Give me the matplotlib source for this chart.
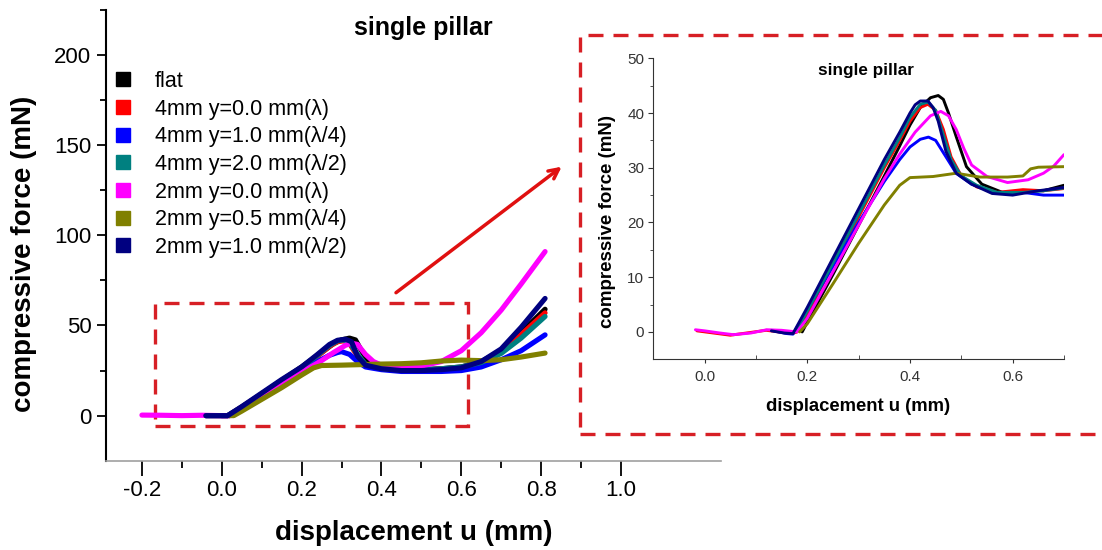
import numpy as np
import matplotlib
matplotlib.use('Agg')
import matplotlib.pyplot as plt
from matplotlib.lines import Line2D
from matplotlib.patches import Rectangle
from matplotlib.ticker import FixedLocator

plt.rcParams['font.family'] = ['Liberation Sans', 'DejaVu Sans']

# Serien (Reihenfolge wie in der Legende)
labels = ['flat', '4mm y=0.0 mm(λ)', '4mm y=1.0 mm(λ/4)', '4mm y=2.0 mm(λ/2)',
          '2mm y=0.0 mm(λ)', '2mm y=0.5 mm(λ/4)', '2mm y=1.0 mm(λ/2)']
colors = ['#000000', '#ff0000', '#0000ff', '#008080', '#ff00ff', '#808000', '#000080']

# Hauptdiagramm: Verschiebung u (mm) und Kraft (mN)
u_flat = [0.0, 0.02, 0.05, 0.1, 0.15, 0.2, 0.25, 0.28, 0.3, 0.32, 0.335, 0.35, 0.37, 0.4,
          0.45, 0.5, 0.55, 0.6, 0.65, 0.7, 0.75, 0.81]
F_flat = [0, 0, 4.5, 12, 19.5, 27, 35, 40, 42, 43, 42, 36, 29, 27,
          25.5, 25.5, 26, 27, 30, 36, 46, 59]
u_4a = [-0.04, 0.0, 0.015, 0.05, 0.1, 0.15, 0.2, 0.24, 0.27, 0.29, 0.305, 0.32, 0.34, 0.36,
        0.4, 0.45, 0.5, 0.55, 0.6, 0.65, 0.7, 0.75, 0.81]
F_4a = [0, 0, 0, 4.8, 12, 19.5, 26.5, 33, 38.5, 41, 41.5, 40, 33, 28,
        26, 25.2, 25.2, 25.8, 26.8, 29.5, 35.5, 45, 57]
u_4b = [-0.04, 0.0, 0.015, 0.05, 0.1, 0.15, 0.2, 0.24, 0.27, 0.29, 0.3, 0.32, 0.34, 0.36,
        0.4, 0.45, 0.5, 0.55, 0.6, 0.65, 0.7, 0.75, 0.81]
F_4b = [0, 0, 0, 4.5, 11.5, 18.5, 25, 30, 33.5, 35, 35.5, 34, 30, 27,
        25.5, 24.5, 24.5, 24.5, 25, 27, 31, 36, 44.8]
u_4c = [-0.04, 0.0, 0.015, 0.05, 0.1, 0.15, 0.2, 0.24, 0.27, 0.29, 0.305, 0.32, 0.34, 0.36,
        0.4, 0.45, 0.5, 0.55, 0.6, 0.65, 0.7, 0.75, 0.81]
F_4c = [0, 0, 0, 4.8, 12, 19.5, 26.5, 33.5, 39, 41.5, 42, 40.5, 34, 28.5,
        26.2, 25.3, 25.3, 26, 27, 29.5, 34.5, 43, 55]
u_2a = [-0.2, -0.15, -0.1, -0.05, 0.0, 0.02, 0.05, 0.1, 0.15, 0.2, 0.25, 0.28, 0.31, 0.325,
        0.34, 0.36, 0.38, 0.4, 0.45, 0.5, 0.55, 0.6, 0.65, 0.7, 0.75, 0.81]
F_2a = [0.3, 0.2, 0, 0.2, 0, 0, 3.5, 10.5, 17.5, 24, 30.5, 35, 39, 40.2,
        39.5, 34, 30, 28, 26.5, 27.5, 30, 36, 46, 58.5, 73, 91]
u_2b = [0.02, 0.03, 0.05, 0.1, 0.15, 0.2, 0.23, 0.25, 0.3, 0.35, 0.4, 0.45, 0.5, 0.55,
        0.6, 0.65, 0.7, 0.75, 0.81]
F_2b = [0, 0, 2.5, 9, 15.5, 22.5, 26.5, 27.8, 28, 28.3, 28.6, 28.8, 29.3, 30.3,
        30.8, 30.5, 31, 32.5, 34.7]
u_2c = [-0.04, 0.0, 0.015, 0.05, 0.1, 0.15, 0.2, 0.24, 0.27, 0.29, 0.31, 0.325, 0.34, 0.36,
        0.4, 0.45, 0.5, 0.55, 0.6, 0.65, 0.7, 0.75, 0.81]
F_2c = [0, 0, 0, 5, 12.5, 20, 27, 34, 39.5, 41.8, 42.4, 41, 33, 28,
        26, 25, 25, 25.5, 26.5, 30, 37, 49, 65]

# Ausschnitt (Inset)
v_flat = [0.19, 0.2, 0.25, 0.3, 0.35, 0.38, 0.4, 0.42, 0.44, 0.455, 0.465, 0.475, 0.49,
          0.51, 0.54, 0.58, 0.62, 0.66, 0.7]
G_flat = [0, 1.8, 10.5, 19.5, 28.5, 34, 37.8, 41, 42.8, 43.2, 42.5, 40, 35.7,
          30.2, 27, 25.5, 25.8, 25.8, 26.8]
v_4a = [-0.015, 0.05, 0.12, 0.17, 0.18, 0.2, 0.25, 0.3, 0.35, 0.38, 0.4, 0.42, 0.435, 0.45,
        0.465, 0.48, 0.5, 0.53, 0.57, 0.62, 0.66, 0.7]
G_4a = [0.2, -0.6, 0.3, -0.3, 0, 3.3, 12.2, 21, 30, 35, 38.5, 41, 41.6, 40.5,
        37, 32, 28.5, 26.5, 25.5, 26, 25.8, 26.2]
v_4b = [0.13, 0.16, 0.172, 0.2, 0.25, 0.3, 0.35, 0.38, 0.4, 0.42, 0.436, 0.45, 0.47, 0.49,
        0.52, 0.57, 0.62, 0.66, 0.7]
G_4b = [0.3, -0.3, -0.4, 4, 12, 20, 27.5, 31.5, 33.8, 35.2, 35.6, 35, 32, 29,
        27, 25.3, 25.5, 25, 25]
v_4c = [0.178, 0.2, 0.25, 0.3, 0.35, 0.38, 0.4, 0.42, 0.435, 0.45, 0.465, 0.48, 0.5, 0.53,
        0.57, 0.62, 0.66, 0.7]
G_4c = [0, 3.8, 12.6, 21.5, 30.5, 35.5, 39.2, 41.6, 42, 40.5, 36, 31.5, 28.5, 26.8,
        25.5, 25.5, 25.8, 26.3]
v_2a = [-0.018, 0.0, 0.03, 0.056, 0.09, 0.121, 0.15, 0.18, 0.2, 0.25, 0.3, 0.35, 0.38, 0.41,
        0.44, 0.46, 0.475, 0.49, 0.505, 0.52, 0.55, 0.59, 0.63, 0.66, 0.68, 0.7]
G_2a = [0.4, 0.2, -0.2, -0.5, -0.2, 0.4, 0.3, 0, 2.5, 11, 19.5, 28, 32.5, 36.5,
        39.5, 40.3, 39.5, 37, 33.5, 30.5, 28.4, 27.3, 27.8, 29, 30.3, 32.4]
v_2b = [0.185, 0.2, 0.25, 0.3, 0.35, 0.38, 0.4, 0.445, 0.49, 0.536, 0.59, 0.62, 0.635, 0.65, 0.7]
G_2b = [0, 1.5, 8.8, 16.2, 23.2, 26.8, 28.2, 28.4, 29, 28.3, 28.3, 28.5, 29.8, 30.1, 30.2]
v_2c = [0.13, 0.155, 0.172, 0.2, 0.25, 0.3, 0.35, 0.38, 0.4, 0.41, 0.42, 0.435, 0.445, 0.455,
        0.47, 0.49, 0.52, 0.56, 0.6, 0.65, 0.7]
G_2c = [0.2, -0.2, -0.3, 4.5, 13.5, 22.5, 31.5, 36.5, 40, 41.5, 42.2, 42.2, 41, 38.5,
        33, 29, 27, 25.3, 25, 25.8, 26.4]

main_u = [u_flat, u_4a, u_4b, u_4c, u_2a, u_2b, u_2c]
main_F = [F_flat, F_4a, F_4b, F_4c, F_2a, F_2b, F_2c]
ins_u = [v_flat, v_4a, v_4b, v_4c, v_2a, v_2b, v_2c]
ins_F = [G_flat, G_4a, G_4b, G_4c, G_2a, G_2b, G_2c]

W, H = 1102, 550
fig = plt.figure(figsize=(W / 100, H / 100), dpi=100)
red = '#d71f25'

# --- Hauptdiagramm ---
ax = fig.add_axes([106 / W, 1 - 460.7 / H, 614.7 / W, 450.7 / H])
for u, F, c in zip(main_u, main_F, colors):
    ax.plot(u, F, color=c, lw=3.7, solid_capstyle='round', solid_joinstyle='round')
ax.set_xlim(-0.29, 1.25)
ax.set_ylim(-25, 225)
ax.spines['top'].set_visible(False)
ax.spines['right'].set_visible(False)
ax.spines['left'].set_linewidth(1.5)
ax.spines['bottom'].set_color('#a0a0a0')
ax.spines['bottom'].set_linewidth(1.2)
ax.xaxis.set_major_locator(FixedLocator([-0.2, 0.0, 0.2, 0.4, 0.6, 0.8, 1.0]))
ax.xaxis.set_minor_locator(FixedLocator([-0.1, 0.1, 0.3, 0.5, 0.7, 0.9]))
ax.yaxis.set_major_locator(FixedLocator([0, 50, 100, 150, 200]))
ax.yaxis.set_minor_locator(FixedLocator([25, 75, 125, 175, 225]))
ax.set_xticklabels(['-0.2', '0.0', '0.2', '0.4', '0.6', '0.8', '1.0'])
ax.tick_params(axis='x', which='major', length=11, width=1.3, labelsize=16, pad=3)
ax.tick_params(axis='x', which='minor', length=5, width=1.3)
ax.tick_params(axis='y', which='major', length=6.5, width=1.3, labelsize=16, pad=4)
ax.tick_params(axis='y', which='minor', length=4.3, width=1.3)
ax.set_xlabel('displacement u (mm)', fontsize=20, fontweight='bold')
ax.set_ylabel('compressive force (mN)', fontsize=20, fontweight='bold')
ax.xaxis.label.set_va('center')
ax.yaxis.label.set_va('center')
ax.xaxis.set_label_coords(0.5, -0.160)
ax.yaxis.set_label_coords(-0.133, 0.46)
ax.text(0.516, 0.959, 'single pillar', transform=ax.transAxes, ha='center', va='center',
        fontsize=18, fontweight='bold')

handles = [Line2D([], [], ls='none', marker='s', markersize=10.5, color=c, label=l)
           for c, l in zip(colors, labels)]
ax.legend(handles=handles, loc='upper left', bbox_to_anchor=(0.0094, 0.865), frameon=False,
          fontsize=15.5, handlelength=1.0, handletextpad=1.0, labelspacing=0.31,
          borderpad=0, borderaxespad=0)

# rot gestricheltes Rechteck um den Ausschnitt
ax.add_patch(Rectangle((-0.166, -5.5), 0.7835, 68.2, fill=False, ec=red, lw=2.4,
                       ls=(0, (4.5, 3)), clip_on=False))

# --- Inset ---
ins = fig.add_axes([653.3 / W, 1 - 359.3 / H, 410.7 / W, 301 / H])
ins.patch.set_alpha(0)
for u, F, c in zip(ins_u, ins_F, colors):
    ins.plot(u, F, color=c, lw=2.1, solid_capstyle='round', solid_joinstyle='round')
ins.set_xlim(-0.1, 0.7)
ins.set_ylim(-5, 50)
ins.spines['top'].set_visible(False)
ins.spines['right'].set_visible(False)
ins.spines['left'].set_color('#333333')
ins.spines['bottom'].set_color('#333333')
ins.xaxis.set_major_locator(FixedLocator([0.0, 0.2, 0.4, 0.6]))
ins.xaxis.set_minor_locator(FixedLocator([-0.1, 0.1, 0.3, 0.5, 0.7]))
ins.yaxis.set_major_locator(FixedLocator([0, 10, 20, 30, 40, 50]))
ins.yaxis.set_minor_locator(FixedLocator([5, 15, 25, 35, 45]))
ins.set_xticklabels(['0.0', '0.2', '0.4', '0.6'])
ins.tick_params(which='both', colors='#333333', labelsize=11)
ins.tick_params(axis='x', which='major', direction='out', length=3, pad=5)
ins.tick_params(axis='x', which='minor', direction='in', length=3)
ins.tick_params(axis='y', which='major', direction='out', length=3.5, pad=3)
ins.tick_params(axis='y', which='minor', direction='out', length=2)
fig.text(866 / W, 1 - 70.7 / H, 'single pillar', ha='center', va='center',
         fontsize=12.3, fontweight='bold')
fig.text(858 / W, 1 - 406.7 / H, 'displacement u (mm)', ha='center', va='center',
         fontsize=13.3, fontweight='bold')
fig.text(608 / W, 1 - 221.5 / H, 'compressive force (mN)', ha='center', va='center',
         rotation=90, fontsize=13.5, fontweight='bold')

# rot gestrichelter Rahmen um das Inset
fig.patches.append(Rectangle((580 / W, 1 - 434.3 / H), 0.5, 399.3 / H, fill=False, ec=red,
                             lw=2.4, ls=(0, (4.5, 3)), transform=fig.transFigure, figure=fig))

# Pfeil
ax.annotate('', xy=(561.7, H - 166.7), xycoords='figure pixels',
            xytext=(396, H - 292.7), textcoords='figure pixels',
            arrowprops=dict(arrowstyle='->,head_length=0.7,head_width=0.35', color='#e01010',
                            lw=2.5, shrinkA=0, shrinkB=0))

fig.savefig('out.png', dpi=100)
